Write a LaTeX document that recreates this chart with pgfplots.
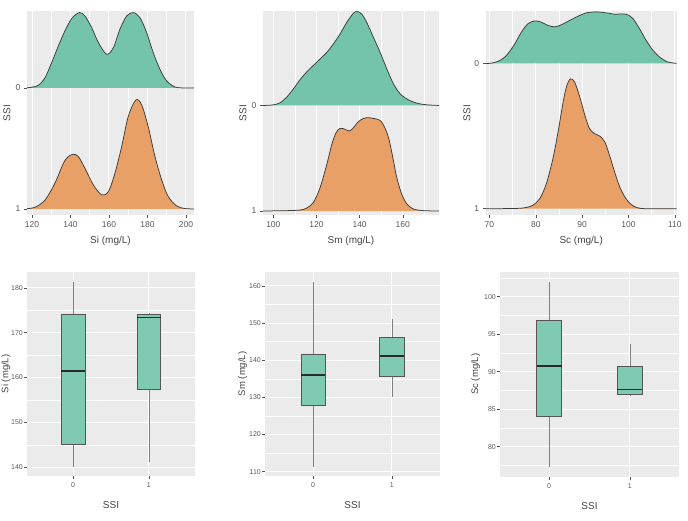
\documentclass[border=0pt]{standalone}
\usepackage{pgfplots}
\pgfplotsset{compat=1.18}
\usepgfplotslibrary{statistics}
\usepackage{fontspec}
\setmainfont{Liberation Sans}
\definecolor{panel}{HTML}{EBEBEB}
\definecolor{greenfill}{HTML}{74C3AB}
\definecolor{orangefill}{HTML}{E9A066}
\definecolor{boxfill}{HTML}{80C9B2}
\definecolor{curvec}{HTML}{3C3C3C}
\definecolor{tickc}{HTML}{555555}
\definecolor{labc}{HTML}{595959}
\definecolor{titlec}{HTML}{444444}
\definecolor{boxline}{HTML}{555555}
\definecolor{whiskc}{HTML}{808080}
\definecolor{medc}{HTML}{2A2A2A}
\pgfplotsset{
  gg/.style={
    scale only axis,
    axis background/.style={fill=panel},
    axis line style={draw=none},
    tick align=outside,
    major tick length=3pt,
    minor tick length=0pt,
    tick style={color=tickc, line width=0.5pt},
    xtick pos=bottom, ytick pos=left,
    /pgf/number format/assume math mode=true,
    major grid style={white, line width=1.0pt},
    minor grid style={white, line width=0.5pt},
    label style={font=\fontsize{10}{12}\selectfont, text=titlec},
  },
  ridge/.style={gg, height=204pt, ytick={0,1}, yticklabels={1,0},
    xmajorgrids, xminorgrids, ylabel={SSI},
    tick label style={font=\fontsize{8.5}{9}\selectfont, text=labc},
    xlabel style={at={(axis description cs:0.5,-0.127)}, anchor=center},
  },
  boxp/.style={gg, height=204.3pt, xmin=-0.61, xmax=1.61, xtick={0,1}, xticklabels={0,1},
    xmajorgrids, ymajorgrids, yminorgrids, xlabel={SSI},
    tick label style={font=\fontsize{7}{8}\selectfont, text=labc},
    yticklabel style={inner sep=1pt},
    ylabel style={font=\fontsize{9.5}{11}\selectfont},
    xlabel style={at={(axis description cs:0.5,-0.143)}, anchor=center},
    boxplot/draw direction=y,
    boxplot/every box/.style={draw=boxline, line width=0.6pt, fill=boxfill},
    boxplot/every whisker/.style={draw=whiskc, line width=0.6pt},
    boxplot/every median/.style={draw=medc, line width=1.5pt},
  },
  fillg/.style={fill=greenfill, draw=none, smooth, tension=0.5},
  fillo/.style={fill=orangefill, draw=none, smooth, tension=0.5},
  curve/.style={draw=curvec, line width=0.75pt, smooth, tension=0.5, no marks},
}
\begin{document}
\begin{tikzpicture}
\path[use as bounding box] (0,0) rectangle (688pt,521pt);

% ---------- Si ridge ----------
\begin{axis}[ridge, at={(27pt,306pt)}, anchor=south west, width=167pt,
  xmin=117.4, xmax=204.2, ymin=-0.05, ymax=1.636,
  xtick={120,140,160,180,200}, minor xtick={130,150,170,190},
  xlabel={Si (mg/L)},
  ylabel style={at={(axis description cs:-0.12,0.5)}, anchor=center}]
\addplot[fillo] coordinates {(116,0) (121.6,0.014) (126.8,0.074) (131.9,0.212) (136.3,0.377) (138.9,0.433) (141.5,0.452) (144.1,0.433) (147.5,0.336) (151.9,0.198) (156.2,0.116) (159.7,0.143) (163.1,0.295) (166.6,0.515) (170.0,0.763) (174.0,0.901) (177.0,0.860) (180.4,0.680) (183.9,0.433) (187.4,0.240) (190.8,0.102) (195.2,0.025) (199.5,0.003) (205,0)} -- cycle;
\addplot[curve] coordinates {(116,0) (121.6,0.014) (126.8,0.074) (131.9,0.212) (136.3,0.377) (138.9,0.433) (141.5,0.452) (144.1,0.433) (147.5,0.336) (151.9,0.198) (156.2,0.116) (159.7,0.143) (163.1,0.295) (166.6,0.515) (170.0,0.763) (174.0,0.901) (177.0,0.860) (180.4,0.680) (183.9,0.433) (187.4,0.240) (190.8,0.102) (195.2,0.025) (199.5,0.003) (205,0)};
\addplot[fillg] coordinates {(116.4,1.000) (119.8,1.006) (123.3,1.022) (126.8,1.085) (130.2,1.209) (133.7,1.347) (137.1,1.471) (140.6,1.573) (144.6,1.623) (147.5,1.595) (151.0,1.499) (154.5,1.375) (158.8,1.278) (162.3,1.333) (165.7,1.485) (169.2,1.595) (172.6,1.623) (176.1,1.581) (179.6,1.457) (183.0,1.292) (186.5,1.154) (190.0,1.058) (194.3,1.008) (198.6,1.000) (205,1.000)} -- cycle;
\addplot[curve] coordinates {(116.4,1.000) (119.8,1.006) (123.3,1.022) (126.8,1.085) (130.2,1.209) (133.7,1.347) (137.1,1.471) (140.6,1.573) (144.6,1.623) (147.5,1.595) (151.0,1.499) (154.5,1.375) (158.8,1.278) (162.3,1.333) (165.7,1.485) (169.2,1.595) (172.6,1.623) (176.1,1.581) (179.6,1.457) (183.0,1.292) (186.5,1.154) (190.0,1.058) (194.3,1.008) (198.6,1.000) (205,1.000)};
\end{axis}

% ---------- Sm ridge ----------
\begin{axis}[ridge, at={(263pt,306pt)}, anchor=south west, width=176pt,
  xmin=95.2, xmax=176.8, ymin=-0.038, ymax=1.895,
  xtick={100,120,140,160}, minor xtick={110,130,150,170},
  xlabel={Sm (mg/L)},
  ylabel style={at={(axis description cs:-0.114,0.5)}, anchor=center}]
\addplot[fillo] coordinates {(95,0) (106.2,0.003) (112.4,0.009) (115.5,0.028) (118.6,0.082) (121.7,0.223) (124.8,0.443) (127.1,0.632) (129.1,0.742) (130.9,0.783) (133.3,0.774) (135.3,0.758) (137.1,0.789) (139.4,0.846) (141.8,0.877) (144.1,0.884) (147.2,0.874) (149.5,0.858) (151.3,0.805) (153.4,0.695) (155.4,0.506) (157.2,0.318) (159.5,0.160) (161.9,0.066) (164.9,0.019) (169.6,0.003) (177,0)} -- cycle;
\addplot[curve] coordinates {(95,0) (106.2,0.003) (112.4,0.009) (115.5,0.028) (118.6,0.082) (121.7,0.223) (124.8,0.443) (127.1,0.632) (129.1,0.742) (130.9,0.783) (133.3,0.774) (135.3,0.758) (137.1,0.789) (139.4,0.846) (141.8,0.877) (144.1,0.884) (147.2,0.874) (149.5,0.858) (151.3,0.805) (153.4,0.695) (155.4,0.506) (157.2,0.318) (159.5,0.160) (161.9,0.066) (164.9,0.019) (169.6,0.003) (177,0)};
\addplot[fillg] coordinates {(95,1) (96.1,1) (100.0,1.006) (103.1,1.025) (106.2,1.079) (109.3,1.157) (112.4,1.245) (115.5,1.318) (120.1,1.410) (124.8,1.503) (127.8,1.582) (130.9,1.676) (134.0,1.786) (137.1,1.874) (139.0,1.890) (141.0,1.865) (143.3,1.786) (146.4,1.645) (149.5,1.503) (152.6,1.346) (155.7,1.204) (158.8,1.110) (162.6,1.053) (166.5,1.022) (171.1,1.006) (177,1)} -- cycle;
\addplot[curve] coordinates {(95,1) (96.1,1) (100.0,1.006) (103.1,1.025) (106.2,1.079) (109.3,1.157) (112.4,1.245) (115.5,1.318) (120.1,1.410) (124.8,1.503) (127.8,1.582) (130.9,1.676) (134.0,1.786) (137.1,1.874) (139.0,1.890) (141.0,1.865) (143.3,1.786) (146.4,1.645) (149.5,1.503) (152.6,1.346) (155.7,1.204) (158.8,1.110) (162.6,1.053) (166.5,1.022) (171.1,1.006) (177,1)};
\end{axis}

% ---------- Sc ridge ----------
\begin{axis}[ridge, at={(485.7pt,306pt)}, anchor=south west, width=191pt,
  xmin=69.2, xmax=110.4, ymin=-0.043, ymax=1.36,
  xtick={70,80,90,100,110}, minor xtick={75,85,95,105},
  xlabel={Sc (mg/L)},
  ylabel style={at={(axis description cs:-0.098,0.5)}, anchor=center}]
\addplot[fillo] coordinates {(69,0) (75.8,0.002) (78.0,0.009) (79.4,0.025) (80.9,0.071) (82.3,0.174) (83.7,0.345) (84.8,0.527) (85.9,0.733) (86.7,0.847) (87.5,0.893) (88.4,0.870) (89.5,0.767) (90.6,0.642) (91.6,0.550) (92.7,0.516) (93.8,0.500) (94.9,0.459) (95.9,0.368) (97.0,0.253) (98.1,0.151) (99.2,0.082) (100.3,0.037) (101.7,0.009) (103.8,0) (110.5,0)} -- cycle;
\addplot[curve] coordinates {(69,0) (75.8,0.002) (78.0,0.009) (79.4,0.025) (80.9,0.071) (82.3,0.174) (83.7,0.345) (84.8,0.527) (85.9,0.733) (86.7,0.847) (87.5,0.893) (88.4,0.870) (89.5,0.767) (90.6,0.642) (91.6,0.550) (92.7,0.516) (93.8,0.500) (94.9,0.459) (95.9,0.368) (97.0,0.253) (98.1,0.151) (99.2,0.082) (100.3,0.037) (101.7,0.009) (103.8,0) (110.5,0)};
\addplot[fillg] coordinates {(68.6,1) (70.1,1) (71.9,1.014) (73.7,1.055) (75.5,1.135) (76.9,1.215) (78.3,1.272) (79.8,1.292) (81.2,1.283) (82.7,1.260) (84.1,1.251) (85.5,1.265) (87.3,1.295) (89.1,1.324) (90.9,1.347) (93.1,1.354) (95.2,1.347) (97.0,1.338) (98.8,1.340) (99.9,1.333) (101.0,1.306) (102.4,1.237) (103.8,1.158) (105.3,1.089) (106.7,1.043) (108.5,1.009) (110.5,1)} -- cycle;
\addplot[curve] coordinates {(68.6,1) (70.1,1) (71.9,1.014) (73.7,1.055) (75.5,1.135) (76.9,1.215) (78.3,1.272) (79.8,1.292) (81.2,1.283) (82.7,1.260) (84.1,1.251) (85.5,1.265) (87.3,1.295) (89.1,1.324) (90.9,1.347) (93.1,1.354) (95.2,1.347) (97.0,1.338) (98.8,1.340) (99.9,1.333) (101.0,1.306) (102.4,1.237) (103.8,1.158) (105.3,1.089) (106.7,1.043) (108.5,1.009) (110.5,1)};
\end{axis}

% ---------- Si boxplot ----------
\begin{axis}[boxp, at={(27pt,45pt)}, anchor=south west, width=168pt,
  ymin=138.06, ymax=183.6, ytick={140,150,160,170,180}, minor ytick={145,155,165,175},
  ylabel={Si (mg/L)},
  ylabel style={at={(axis description cs:-0.125,0.5)}, anchor=center}]
\addplot[boxplot prepared={draw position=0, lower whisker=140.1, lower quartile=145.2, median=161.5, upper quartile=174.1, upper whisker=181.3, box extend=0.31, whisker extend=0}] coordinates {};
\addplot[boxplot prepared={draw position=1, lower whisker=141.2, lower quartile=157.4, median=173.4, upper quartile=174.0, upper whisker=174.3, box extend=0.31, whisker extend=0}] coordinates {};
\end{axis}

% ---------- Sm boxplot ----------
\begin{axis}[boxp, at={(265pt,45pt)}, anchor=south west, width=175pt,
  ymin=108.84, ymax=163.85, ytick={110,120,130,140,150,160}, minor ytick={115,125,135,145,155},
  ylabel={Sm (mg/L)},
  ylabel style={at={(axis description cs:-0.128,0.5)}, anchor=center}]
\addplot[boxplot prepared={draw position=0, lower whisker=111.2, lower quartile=127.8, median=136.1, upper quartile=141.6, upper whisker=161.2, box extend=0.31, whisker extend=0}] coordinates {};
\addplot[boxplot prepared={draw position=1, lower whisker=130.0, lower quartile=135.6, median=141.2, upper quartile=146.2, upper whisker=151.1, box extend=0.31, whisker extend=0}] coordinates {};
\end{axis}

% ---------- Sc boxplot ----------
\begin{axis}[boxp, at={(500pt,44.3pt)}, anchor=south west, width=179pt, height=205pt,
  ymin=76.0, ymax=103.33, ytick={80,85,90,95,100}, minor ytick={77.5,82.5,87.5,92.5,97.5,102.5},
  ylabel={Sc (mg/L)},
  ylabel style={at={(axis description cs:-0.136,0.5)}, anchor=center}]
\addplot[boxplot prepared={draw position=0, lower whisker=77.3, lower quartile=84.0, median=90.76, upper quartile=96.9, upper whisker=102.0, box extend=0.31, whisker extend=0}] coordinates {};
\addplot[boxplot prepared={draw position=1, lower whisker=86.7, lower quartile=87.0, median=87.6, upper quartile=90.67, upper whisker=93.7, box extend=0.31, whisker extend=0}] coordinates {};
\end{axis}
\end{tikzpicture}
\end{document}
